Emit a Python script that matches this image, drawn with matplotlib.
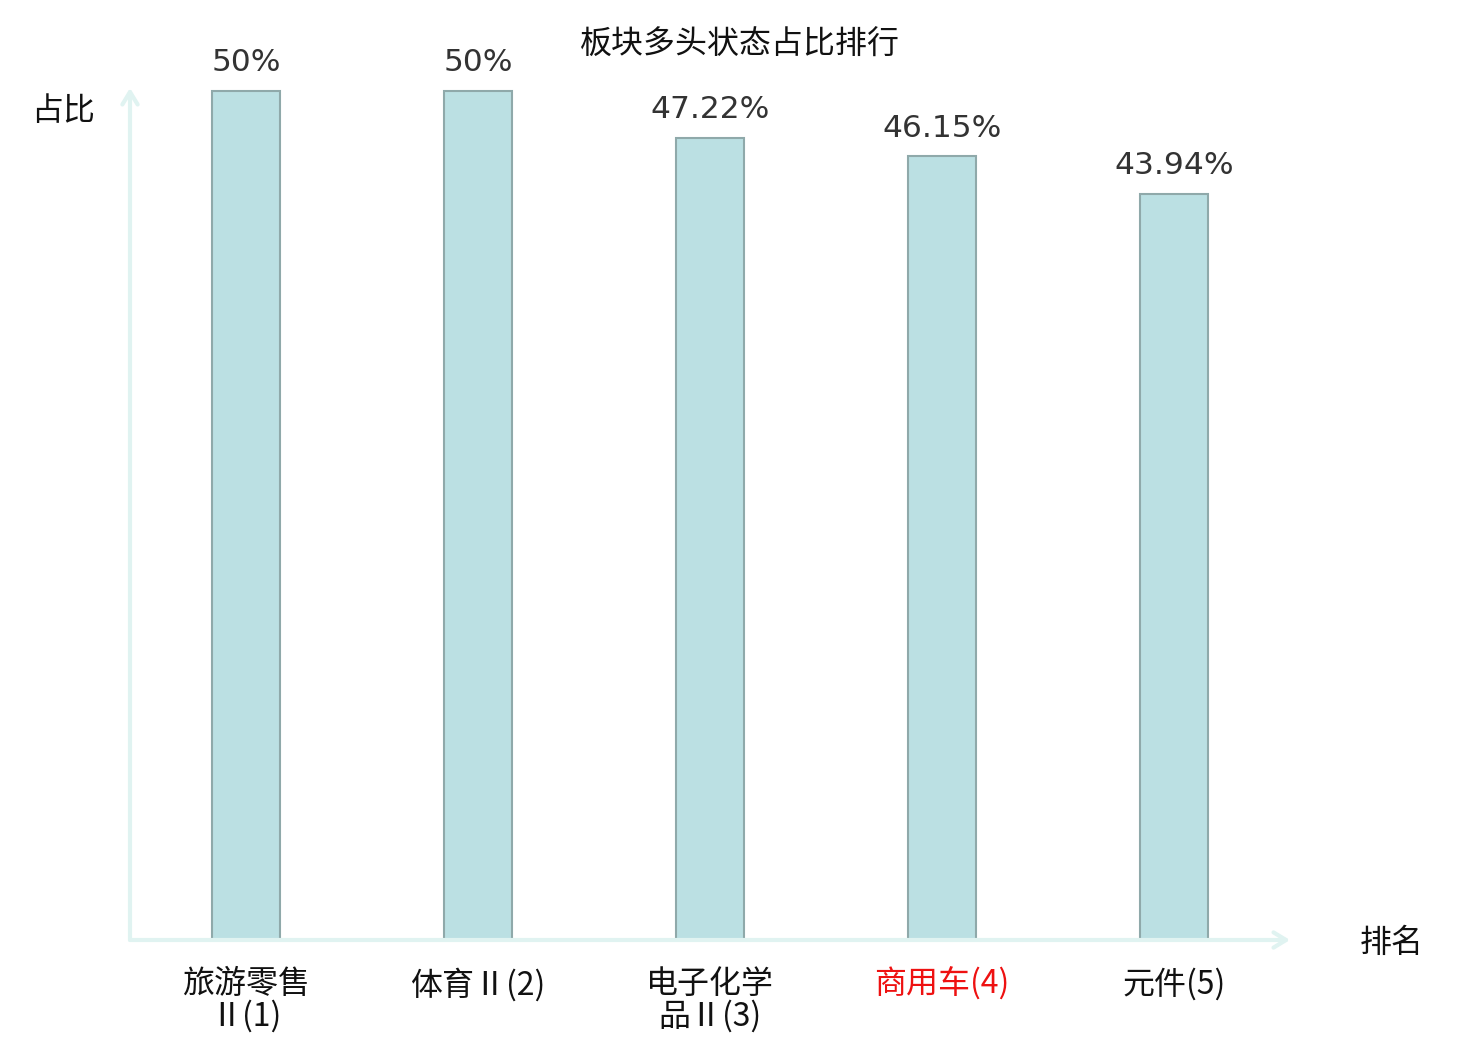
import matplotlib.pyplot as plt

plt.rcParams['font.family'] = ['Noto Sans CJK SC', 'DejaVu Sans']

categories = ["旅游零售\nⅡ(1)", "体育Ⅱ(2)", "电子化学\n品Ⅱ(3)", "商用车(4)", "元件(5)"]
values = [50, 50, 47.22, 46.15, 43.94]
value_labels = ["50%", "50%", "47.22%", "46.15%", "43.94%"]
highlight = 3  # 商用车 in red

axis_color = "#E0F3F1"

fig = plt.figure(figsize=(14.8, 10.4), dpi=100)
ax = fig.add_axes([130 / 1480, 100 / 1040, 1160 / 1480, 852 / 1040])

x = list(range(len(categories)))
ax.bar(x, values, width=0.293, color="#BBE0E3", edgecolor="#8FA9AA", linewidth=1.5, zorder=3)

for xi, v, lab in zip(x, values, value_labels):
    ax.annotate(lab, (xi, v), xytext=(0, 10), textcoords="offset points",
                ha="center", va="bottom", fontsize=22.5, color="#333333",
                family="DejaVu Sans")

ax.set_xlim(-0.5, 4.5)
ax.set_ylim(0, 50.18)
for s in ax.spines.values():
    s.set_visible(False)
ax.set_yticks([])
ax.set_xticks(x)
ax.set_xticklabels(categories, fontsize=23, fontweight="light", linespacing=1.0)
ax.tick_params(axis="x", length=0, pad=20)
for i, t in enumerate(ax.get_xticklabels()):
    t.set_color("#ee1111" if i == highlight else "#111111")

# axis arrows
ax.annotate("", xy=(1.0, 0), xytext=(0, 0), xycoords="axes fraction",
            arrowprops=dict(arrowstyle="->,head_length=0.9,head_width=0.55",
                            color=axis_color, lw=3, shrinkA=0, shrinkB=0))
ax.annotate("", xy=(0, 1.0), xytext=(0, 0), xycoords="axes fraction",
            arrowprops=dict(arrowstyle="->,head_length=0.9,head_width=0.55",
                            color=axis_color, lw=3, shrinkA=0, shrinkB=0))

fig.text(63 / 1480, 1 - 111 / 1040, "占比", fontsize=23, ha="center", va="center", color="#111111")
fig.text(1392 / 1480, 1 - 943 / 1040, "排名", fontsize=23, ha="center", va="center", color="#111111")
fig.text(740 / 1480, 1 - 45 / 1040, "板块多头状态占比排行", fontsize=23, ha="center", va="center", color="#111111")

fig.savefig("out.png", dpi=100)
